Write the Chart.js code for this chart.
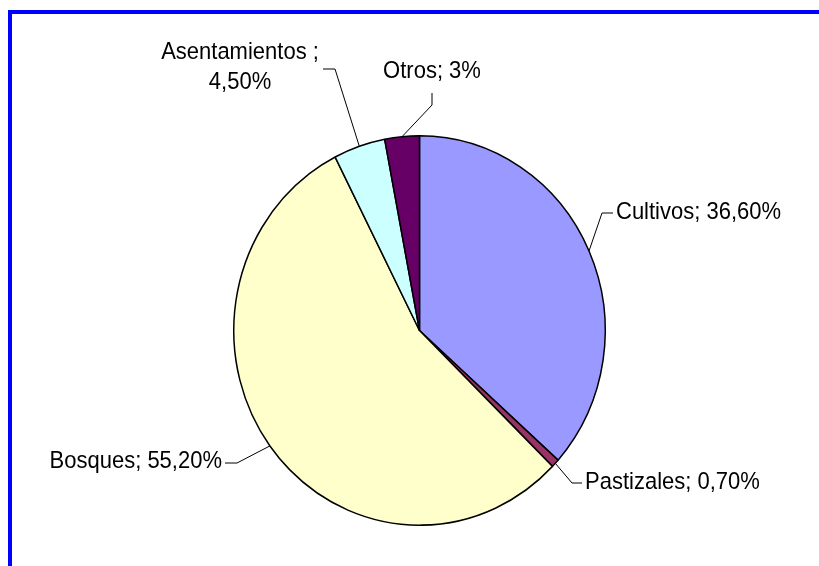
<!DOCTYPE html>
<html>
<head>
<meta charset="utf-8">
<script src="https://cdn.jsdelivr.net/npm/chart.js@4/dist/chart.umd.min.js"></script>
<style>
  html, body { margin: 0; padding: 0; background: #fff; }
  #wrap { position: relative; width: 819px; height: 566px; overflow: hidden; }
  #frame {
    position: absolute; left: 8px; top: 10px; width: 900px; height: 700px;
    border-top: 4px solid #0000ff; border-left: 4px solid #0000ff;
  }
  canvas { position: absolute; left: 0; top: 0; }
</style>
</head>
<body>
<div id="wrap">
  <div id="frame"></div>
  <canvas id="uso-suelo" width="819" height="566"></canvas>
</div>
<script>
const categories = ['Cultivos', 'Pastizales', 'Bosques', 'Asentamientos', 'Otros'];
const shares = [36.6, 0.7, 55.2, 4.5, 3];
const shareLabels = ['36,60%', '0,70%', '55,20%', '4,50%', '3%'];
const sliceColors = ['#9999ff', '#993366', '#ffffcc', '#ccffff', '#660066'];

// pie and text are drawn a bit taller than wide
const stretchY = 1.048;

// where each label sits and the elbow of its leader line
const labelLayout = [
    { lines: ['Cultivos; 36,60%'], x: 616, y: 213, align: 'left', elbow: [[613, 213], [602, 213]] },
    { lines: ['Pastizales; 0,70%'], x: 585, y: 483, align: 'left', elbow: [[582, 483], [572, 483]] },
    { lines: ['Bosques; 55,20%'], x: 222, y: 462, align: 'right', elbow: [[225, 463], [237, 463]] },
    { lines: ['Asentamientos ;', '4,50%'], x: 240, y: 53, align: 'center', elbow: [[323, 69], [335, 69]] },
    { lines: ['Otros; 3%'], x: 432, y: 72, align: 'center', elbow: [[432, 93], [432, 105]] }
];

const ellipsePlugin = {
    id: 'ellipse',
    beforeDatasetsDraw(chart) {
        const arc = chart.getDatasetMeta(0).data[0];
        const ctx = chart.ctx;
        ctx.save();
        ctx.translate(arc.x, arc.y);
        ctx.scale(1, stretchY);
        ctx.translate(-arc.x, -arc.y);
    },
    afterDatasetsDraw(chart) {
        chart.ctx.restore();
    }
};

const labelPlugin = {
    id: 'sliceLabels',
    afterDraw(chart) {
        const ctx = chart.ctx;
        const arcs = chart.getDatasetMeta(0).data;
        ctx.save();
        ctx.fillStyle = '#000';
        ctx.strokeStyle = '#000';
        ctx.lineWidth = 1;
        arcs.forEach(function(arc, i) {
            const layout = labelLayout[i];
            const mid = (arc.startAngle + arc.endAngle) / 2;
            const px = arc.x + arc.outerRadius * Math.cos(mid);
            const py = arc.y + arc.outerRadius * stretchY * Math.sin(mid);

            ctx.beginPath();
            ctx.moveTo(layout.elbow[0][0], layout.elbow[0][1]);
            ctx.lineTo(layout.elbow[1][0], layout.elbow[1][1]);
            ctx.lineTo(px, py);
            ctx.stroke();

            layout.lines.forEach(function(line, j) {
                ctx.save();
                ctx.translate(layout.x, layout.y + j * 30);
                ctx.scale(1, stretchY);
                ctx.font = '22px "Liberation Sans", Arial, sans-serif';
                ctx.textAlign = layout.align;
                ctx.textBaseline = 'middle';
                ctx.fillText(line, 0, 0);
                ctx.restore();
            });
        });
        ctx.restore();
    }
};

const pieCtx = document.getElementById('uso-suelo').getContext('2d');

new Chart(pieCtx, {
    type: 'pie',
    data: {
        labels: categories.map((c, i) => c + '; ' + shareLabels[i]),
        datasets: [{
            data: shares,
            backgroundColor: sliceColors,
            borderColor: '#000000',
            borderWidth: 1.5,
            hoverOffset: 0
        }]
    },
    options: {
        responsive: false,
        animation: false,
        layout: { padding: { left: 233, right: 213, top: 144, bottom: 49 } },
        plugins: {
            legend: { display: false },
            tooltip: { enabled: false }
        }
    },
    plugins: [ellipsePlugin, labelPlugin]
});
</script>
</body>
</html>
